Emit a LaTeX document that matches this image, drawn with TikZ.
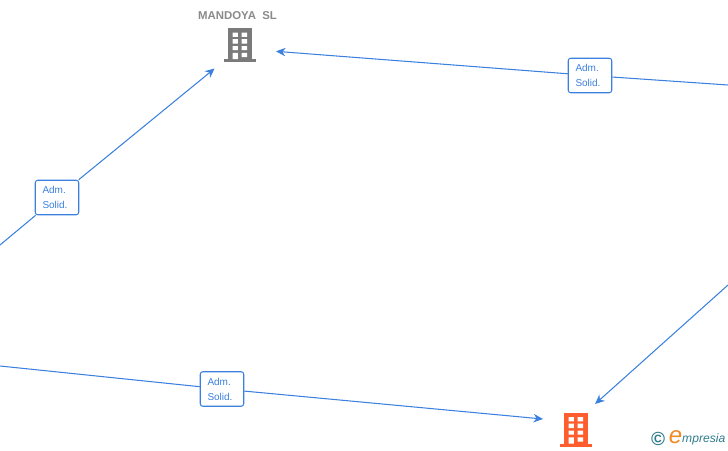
\documentclass[tikz,border=0pt]{standalone}
\usepackage{fontspec}
\setmainfont{Liberation Sans}
\usetikzlibrary{arrows.meta}
\definecolor{linkblue}{HTML}{3B80DE}
\definecolor{titlegray}{HTML}{8A8A8A}
\definecolor{icongray}{HTML}{7A7A7A}
\definecolor{iconorange}{HTML}{FF5D2E}
\definecolor{logoteal}{HTML}{2F7C8C}
\definecolor{logoorange}{HTML}{F08A24}
\tikzset{
  x=1pt,y=-1pt,
  hub/.style={rectangle,minimum width=#1,minimum height=36pt,inner sep=0pt,outer sep=0pt},
  link/.style={draw=linkblue,line width=1.05pt},
  arrowlink/.style={link,-{Stealth[length=9.5pt,width=8.5pt]}},
  tag/.style={draw=linkblue,line width=1.05pt,fill=white,rounded corners=2.5pt,
    minimum width=43.5pt,minimum height=34.5pt,inner sep=0pt,text width=29pt,align=left,
    text=linkblue,font=\fontsize{10}{15}\selectfont},
  title/.style={text=titlegray,font=\bfseries\fontsize{11.4}{12}\selectfont,inner sep=0pt},
}
\newcommand{\tower}[3]{%
  \begin{scope}[shift={(#1,#2)}]
    \fill[#3] (4,0) rectangle (28,31);
    \fill[#3] (0,31) rectangle (32,34);
    \fill[white]
      (8.5,4.5) rectangle (13.8,8.8) (17.7,4.5) rectangle (23,8.8)
      (8.5,11.2) rectangle (13.8,15.5) (17.7,11.2) rectangle (23,15.5)
      (8.5,18) rectangle (13.8,22.2) (17.7,18) rectangle (23,22.2)
      (8.5,24.8) rectangle (13.8,31) (17.7,24.8) rectangle (23,29);
  \end{scope}}
\begin{document}
\begin{tikzpicture}
\useasboundingbox (0,0) rectangle (728,450);
\node[hub=74pt,minimum height=40pt] (mandoya) at (239,48.5) {};
\node[hub=64pt] (target) at (575,422) {};
\coordinate (leftA) at (0,245);
\coordinate (leftB) at (0,366);
\coordinate (rightA) at (728,85);
\coordinate (rightB) at (728,285);
\node[tag] (tagA) at (57,197.5) {Adm.\\Solid.};
\node[tag] (tagB) at (590,75.5) {Adm.\\Solid.};
\node[tag] (tagC) at (222,389) {Adm.\\Solid.};
\draw[link] (leftA) -- (tagA);
\draw[arrowlink] (tagA) -- (mandoya);
\draw[link] (rightA) -- (tagB);
\draw[arrowlink] (tagB) -- (mandoya);
\draw[link] (leftB) -- (tagC);
\draw[arrowlink] (tagC) -- (target);
\draw[arrowlink] (rightB) -- (target);
\tower{224}{28}{icongray}
\tower{560}{412.5}{iconorange}
\node[title] (name) at (237.5,15.5) {MANDOYA\ \ SL};
\node[inner sep=0pt,text=logoteal,font=\bfseries\fontsize{19}{19}\selectfont] (copy) at (658,439) {©};
\node[inner sep=0pt,text=logoorange,font=\itshape\fontsize{24}{24}\selectfont] (logoe) at (675.5,437) {e};
\node[inner sep=0pt,anchor=west,text=logoteal,font=\itshape\fontsize{12.1}{12}\selectfont] (logotext) at (682,439) {mpresia};
\end{tikzpicture}
\end{document}
